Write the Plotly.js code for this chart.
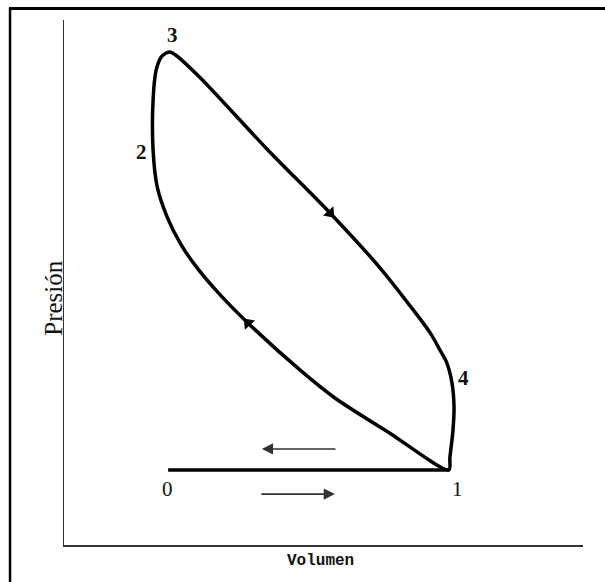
<!DOCTYPE html>
<html>
<head>
<meta charset="utf-8">
<script src="https://cdn.plot.ly/plotly-3.0.1.min.js"></script>
<style>html,body{margin:0;padding:0;background:#fff;}#chart{width:605px;height:582px;}</style>
</head>
<body>
<div id="chart"></div>
<script>
// Cycle path: 1 -> 4 -> 3 (expansion / combustion), then 3 -> 2 -> 1 (compression)
const cycleVolume = [7.41, 7.43, 7.49, 7.51, 7.47, 7.37, 7.24, 7.05, 6.72, 6.08, 5.12, 3.92, 2.61, 2.14, 2.01,
                     1.87, 1.76, 1.70, 1.70, 1.78, 1.97, 2.24, 2.58, 3.00, 3.53, 4.54, 5.21, 6.27, 7.41];
const cyclePressure = [1.43, 1.66, 2.19, 2.63, 3.09, 3.47, 3.71, 4.04, 4.48, 5.28, 6.32, 7.52, 8.90, 9.33, 9.39,
                       9.31, 9.05, 8.48, 7.52, 6.82, 6.25, 5.72, 5.24, 4.76, 4.23, 3.33, 2.80, 2.13, 1.43];
// Intake / exhaust line 0 -> 1
const intakeVolume = [1.99, 7.41];
const intakePressure = [1.43, 1.43];
// Direction arrows on the cycle
const arrowVolume = [5.12, 3.53];
const arrowPressure = [6.32, 4.23];
const arrowAngle = [138, -43];
// Point labels
const labelText = ['3', '2', '4', '0', '1'];
const labelVolume = [2.07, 1.47, 7.70, 1.97, 7.57];
const labelPressure = [9.71, 7.49, 3.18, 1.07, 1.07];
const labelBold = [true, true, true, false, false];
// Horizontal flow arrows [tail, head]
const exhaustArrow = {from: 5.25, to: 3.80, p: 1.83};
const intakeArrow = {from: 3.76, to: 5.21, p: 0.97};

const traces = [
  {x: cycleVolume, y: cyclePressure, mode: 'lines', line: {color: '#000', width: 3.5, shape: 'spline', smoothing: 0.8}, hoverinfo: 'skip'},
  {x: intakeVolume, y: intakePressure, mode: 'lines', line: {color: '#000', width: 3.5}, hoverinfo: 'skip'},
  {x: arrowVolume, y: arrowPressure, mode: 'markers', marker: {symbol: 'triangle-up', size: 12, color: '#000', angle: arrowAngle}, hoverinfo: 'skip'}
];

const serif = 'Liberation Serif, Times New Roman, serif';
const annotations = labelText.map((t, i) => ({
  x: labelVolume[i], y: labelPressure[i], xref: 'x', yref: 'y', showarrow: false,
  text: labelBold[i] ? '<b>' + t + '</b>' : t,
  font: {family: serif, size: 21, color: '#111'}
}));
[exhaustArrow, intakeArrow].forEach(a => annotations.push({
  x: a.to, y: a.p, ax: a.from, ay: a.p, xref: 'x', yref: 'y', axref: 'x', ayref: 'y',
  text: '', showarrow: true, arrowhead: 2, arrowsize: 1.4, arrowwidth: 1.6, arrowcolor: '#333'
}));
annotations.push({
  x: 0, xref: 'paper', xshift: -26, y: 4.7, yref: 'y', textangle: -90, showarrow: false,
  text: 'Presión', font: {family: serif, size: 25, color: '#111'}
});
annotations.push({
  x: 0.494, xref: 'paper', y: 0, yref: 'paper', yshift: -27, showarrow: false,
  text: '<b>Volumen</b>', font: {family: 'Liberation Mono, monospace', size: 16, color: '#111'}
});

const layout = {
  width: 605, height: 582,
  margin: {l: 64, r: 22, t: 20, b: 37},
  paper_bgcolor: '#fff', plot_bgcolor: '#fff',
  showlegend: false,
  xaxis: {range: [-0.02, 10], showgrid: false, zeroline: false, showticklabels: false, ticks: '',
          showline: true, linecolor: '#333', linewidth: 1.5, fixedrange: true},
  yaxis: {range: [0, 10], showgrid: false, zeroline: false, showticklabels: false, ticks: '',
          showline: true, linecolor: '#333', linewidth: 1.5, fixedrange: true},
  annotations: annotations,
  shapes: [
    {type: 'line', xref: 'paper', yref: 'paper', x0: -0.104, x1: -0.104, y0: -0.08, y1: 1.022, line: {color: '#000', width: 2.5}},
    {type: 'line', xref: 'paper', yref: 'paper', x0: -0.106, x1: 1.05, y0: 1.022, y1: 1.022, line: {color: '#000', width: 3}}
  ]
};
Plotly.newPlot('chart', traces, layout, {staticPlot: true, displayModeBar: false});
</script>
</body>
</html>
